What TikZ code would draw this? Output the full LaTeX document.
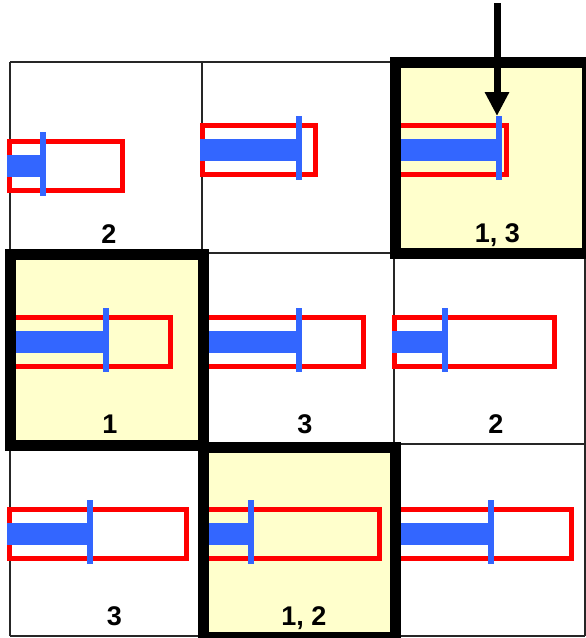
\documentclass[tikz,border=0pt]{standalone}
\usepackage{fontspec}
\setmainfont{Liberation Sans}
\usetikzlibrary{arrows.meta}

\definecolor{cellyellow}{RGB}{255,255,204}
\definecolor{barrelred}{RGB}{255,0,0}
\definecolor{plungerblue}{RGB}{51,102,255}

\tikzset{
  gridline/.style={draw=black!85, line width=1.5pt},
  hilite/.style={draw=black, line width=11pt},
  hilitefill/.style={fill=cellyellow},
  barrel/.style={draw=barrelred, line width=5pt},
  plunger/.style={fill=plungerblue},
  celllabel/.style={anchor=base, inner sep=0pt, font=\fontsize{27}{30}\selectfont\bfseries},
  pusharrow/.style={draw=black, line width=7pt, -{Triangle[width=23pt,length=24pt]}}
}

% syringe: left edge, centre line, barrel length, plunger-head position
\newcommand\drawsyringe[4]{%
  \draw[barrel] (#1,#2-24.5) rectangle (#1+#3,#2+24.5);
  \fill[plunger] (#1-2.5,#2-11) rectangle (#4,#2+11);
  \fill[plunger] (#4-3,#2-34) rectangle (#4+3,#2+30);
}

\begin{document}
\begin{tikzpicture}[x=1pt,y=-1pt]
\useasboundingbox (0,0) rectangle (586,638);

% highlighted cells
\fill[hilitefill] (395,62.5) rectangle (587,253);
\fill[hilitefill] (10.5,254) rectangle (203,445);
\fill[hilitefill] (203,447) rectangle (395,637.5);

% thin grid
\foreach \gx in {10,202,394,585} \draw[gridline] (\gx,62) -- (\gx,636);
\foreach \gy in {62,253,444,636} \draw[gridline] (10,\gy) -- (585,\gy);

% syringes, row by row
\drawsyringe{9.5}{166}{113}{42.5}
\drawsyringe{202.5}{150}{113}{299}
\drawsyringe{395}{150}{111.5}{499}
\drawsyringe{10.5}{342}{160}{106}
\drawsyringe{203}{342}{160.5}{298.5}
\drawsyringe{394.5}{342}{160}{445}
\drawsyringe{9.5}{534}{177}{90}
\drawsyringe{203}{534}{176.5}{250.5}
\drawsyringe{395}{534}{176.5}{490.5}

% heavy frames round the highlighted cells
\draw[hilite] (395,62.5) rectangle (587,253);
\draw[hilite] (10.5,254) rectangle (203,445);
\draw[hilite] (203,447) rectangle (395,637.5);

% cell labels
\node[celllabel] (l11) at (109,243) {2};
\node[celllabel] (l13) at (497.5,242) {1, 3};
\node[celllabel] (l21) at (110,433) {1};
\node[celllabel] (l22) at (305,433) {3};
\node[celllabel] (l23) at (496,433) {2};
\node[celllabel] (l31) at (114.5,625) {3};
\node[celllabel] (l32) at (304,625) {1, 2};

% pushing arrow onto the plunger head
\coordinate (pushstart) at (497,3);
\coordinate (plungertop) at (497,116);
\draw[pusharrow] (pushstart) -- (plungertop);
\end{tikzpicture}
\end{document}
